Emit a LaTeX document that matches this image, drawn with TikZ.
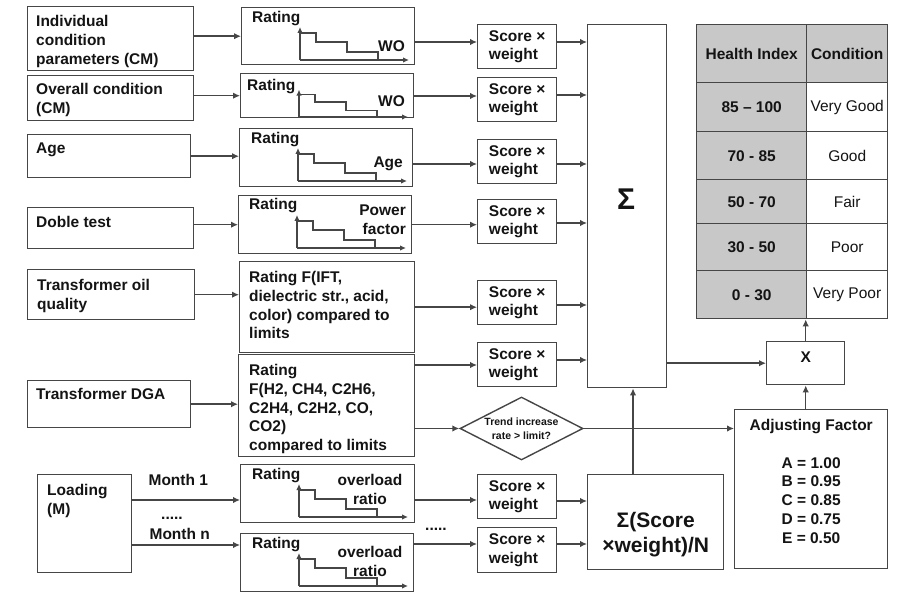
\documentclass[tikz,border=0pt]{standalone}
\usepackage{fontspec}
\setmainfont{Liberation Sans}
\usetikzlibrary{arrows.meta,shapes.geometric}
\definecolor{bord}{RGB}{70,70,70}
\definecolor{txt}{RGB}{20,20,20}
\definecolor{tabgray}{RGB}{200,200,200}
\newcommand\fnt{\fontsize{15.5}{18.8}\selectfont}
\newcommand\ratechart[2]{%
  \begin{scope}[shift={(#1.north west)},yscale=#2]
    \draw[chart,-{Latex[length=6pt,width=5.5pt]}] (59,53) -- (59,20);
    \draw[chart,-{Latex[length=6pt,width=5.5pt]}] (59,53) -- (168,53);
    \draw[chart] (59,26) -- (75,26) -- (75,35) -- (106,35) -- (106,45) -- (137,45) -- (137,53);
  \end{scope}}
\begin{document}
\begin{tikzpicture}[x=1pt,y=-1pt,
  box/.style={draw=bord,line width=1.4pt,rectangle,inner sep=0pt,anchor=north west},
  lbl/.style={anchor=north west,inner sep=0pt,align=left,text=txt,font=\fnt\bfseries},
  arr/.style={draw=bord,line width=1.4pt,-{Latex[length=7pt,width=6.5pt]}},
  chart/.style={draw=bord,line width=1.3pt},
  every node/.style={text=txt}]
\path[fill=white,use as bounding box] (0,0) rectangle (897,593);

% ---------- left column ----------
\node[box,minimum width=166pt,minimum height=64pt] (l1) at (27,6) {};
\node[box,minimum width=166pt,minimum height=45pt] (l2) at (27,75) {};
\node[box,minimum width=163pt,minimum height=43pt] (l3) at (27,134) {};
\node[box,minimum width=166pt,minimum height=41pt] (l4) at (27,207) {};
\node[box,minimum width=167pt,minimum height=50pt] (l5) at (27,269) {};
\node[box,minimum width=163pt,minimum height=47pt] (l6) at (27,380) {};
\node[box,minimum width=94pt,minimum height=98pt] (l7) at (37,474) {};
\node[lbl] (t1) at ([shift={(9,9)}]l1.north west) {Individual\\condition\\parameters (CM)};
\node[lbl] (t2) at ([shift={(9,8)}]l2.north west) {Overall condition\\(CM)};
\node[lbl] (t3) at ([shift={(9,9)}]l3.north west) {Age};
\node[lbl] (t4) at ([shift={(9,9)}]l4.north west) {Doble test};
\node[lbl] (t5) at ([shift={(10,10)}]l5.north west) {Transformer oil\\quality};
\node[lbl] (t6) at ([shift={(9,8)}]l6.north west) {Transformer DGA};
\node[lbl] (t7) at ([shift={(10,10)}]l7.north west) {Loading\\(M)};
\node[lbl] (m1) at ([shift={(16,0)}]l7.north east) {Month 1};
\node[lbl] (m2) at ([shift={(17,54)}]l7.north east) {Month n};
\node[anchor=base west,inner sep=0pt,font=\fnt\bfseries] (d1) at (161,519) {.....};
\node[anchor=base west,inner sep=0pt,font=\fnt\bfseries] (d2) at (425,530) {.....};

% ---------- rating column ----------
\node[box,minimum width=173pt,minimum height=57pt] (r1) at (241,7) {};
\node[box,minimum width=173pt,minimum height=44pt] (r2) at (240,73) {};
\node[box,minimum width=173pt,minimum height=58pt] (r3) at (239,128) {};
\node[box,minimum width=173pt,minimum height=58pt] (r4) at (238,195) {};
\node[box,minimum width=175pt,minimum height=91pt] (r5) at (239,261) {};
\node[box,minimum width=176pt,minimum height=102pt] (r6) at (238,354) {};
\node[box,minimum width=174pt,minimum height=58pt] (r7) at (240,464) {};
\node[box,minimum width=173pt,minimum height=58pt] (r8) at (240,533) {};
\ratechart{r1}{1}
\ratechart{r2}{0.83}
\ratechart{r3}{1}
\ratechart{r4}{1}
\ratechart{r7}{1}
\ratechart{r8}{1}
\node[lbl] (g1) at ([shift={(11,4)}]r1.north west) {Rating};
\node[lbl] (g2) at ([shift={(7,6)}]r2.north west) {Rating};
\node[lbl] (g3) at ([shift={(12,4)}]r3.north west) {Rating};
\node[lbl] (g4) at ([shift={(11,3)}]r4.north west) {Rating};
\node[lbl] (g7) at ([shift={(12,4)}]r7.north west) {Rating};
\node[lbl] (g8) at ([shift={(12,4)}]r8.north west) {Rating};
\node[lbl,anchor=north east] (w1) at ([shift={(164,33)}]r1.north west) {WO};
\node[lbl,anchor=north east] (w2) at ([shift={(165,22)}]r2.north west) {WO};
\node[lbl,anchor=north east] (w3) at ([shift={(164,29)}]r3.north west) {Age};
\node[lbl,anchor=north east,align=right] (w4) at ([shift={(168,10)}]r4.north west) {Power\\factor};
\node[lbl,anchor=north,align=center] (w7) at ([shift={(130,10)}]r7.north west) {overload\\ratio};
\node[lbl,anchor=north,align=center] (w8) at ([shift={(130,13)}]r8.north west) {overload\\ratio};
\node[lbl] (g5) at ([shift={(10,10)}]r5.north west) {Rating F(IFT,\\dielectric str., acid,\\color) compared to\\limits};
\node[lbl] (g6) at ([shift={(11,10)}]r6.north west) {Rating\\F(H2, CH4, C2H6,\\C2H4, C2H2, CO,\\CO2)\\compared to limits};

% ---------- score column ----------
\tikzset{score/.style={box,minimum width=79pt,minimum height=44pt,align=left,font=\fnt\bfseries}}
\node[score] (s1) at (477,24) {Score ×\\weight};
\node[score] (s2) at (477,77) {Score ×\\weight};
\node[score] (s3) at (477,139) {Score ×\\weight};
\node[score] (s4) at (477,199) {Score ×\\weight};
\node[score] (s5) at (477,280) {Score ×\\weight};
\node[score] (s6) at (477,342) {Score ×\\weight};
\node[score] (s7) at (477,474) {Score ×\\weight};
\node[score,minimum height=45pt] (s8) at (477,527) {Score ×\\weight};

% ---------- sums ----------
\node[box,minimum width=79pt,minimum height=363pt] (sig) at (587,24) {};
\node[inner sep=0pt,font=\fontsize{30}{34}\selectfont\bfseries] (sigt) at (626,199) {Σ};
\node[box,minimum width=136pt,minimum height=95pt] (sn) at (587,474) {};
\node[anchor=north,inner sep=0pt,align=center,font=\fontsize{21}{25}\selectfont\bfseries] (snt) at ([shift={(0,38)}]sn.north) {Σ(Score\\×weight)/N};

% ---------- diamond, adjusting, X ----------
\node[diamond,draw=bord,line width=1.4pt,minimum width=123pt,minimum height=63pt,inner sep=0pt] (dia) at (521.5,428.5) {};
\node[inner sep=0pt,align=center,font=\fontsize{10.5}{13.5}\selectfont\bfseries] (diat) at (dia.center) {Trend increase\\rate > limit?};
\node[box,minimum width=153pt,minimum height=159pt] (adj) at (734,409) {};
\node[anchor=north,inner sep=0pt,align=center,font=\fnt\bfseries] (adjt) at ([shift={(0,10)}]adj.north) {Adjusting Factor\\[18.8pt]A = 1.00\\B = 0.95\\C = 0.85\\D = 0.75\\E = 0.50};
\node[box,minimum width=78pt,minimum height=43pt] (xb) at (766,341) {};
\node[inner sep=0pt,font=\fnt\bfseries] (xt) at ([yshift=6pt]xb.center) {X};

% ---------- table ----------
\tikzset{cellL/.style={box,fill=tabgray,minimum width=110pt,font=\fnt\bfseries},
         cellR/.style={box,minimum width=81pt,font=\fnt}}
\node[cellL,minimum height=58pt] (h1) at (696,24) {Health Index};
\node[cellR,fill=tabgray,minimum height=58pt,font=\fnt\bfseries] (h2) at (806,24) {Condition};
\node[cellL,minimum height=49pt] (a1) at (696,82) {85 – 100};
\node[cellR,minimum height=49pt] (b1) at (806,82) {Very Good};
\node[cellL,minimum height=48pt] (a2) at (696,131) {70 - 85};
\node[cellR,minimum height=48pt] (b2) at (806,131) {Good};
\node[cellL,minimum height=44pt] (a3) at (696,179) {50 - 70};
\node[cellR,minimum height=44pt] (b3) at (806,179) {Fair};
\node[cellL,minimum height=47pt] (a4) at (696,223) {30 - 50};
\node[cellR,minimum height=47pt] (b4) at (806,223) {Poor};
\node[cellL,minimum height=48pt] (a5) at (696,270) {0 - 30};
\node[cellR,minimum height=48pt] (b5) at (806,270) {Very Poor};

% ---------- connectors ----------
\draw[arr] (l1.east |- r1.west) -- (r1.west);
\draw[arr] (l2.east |- r2.west) -- (r2.west);
\draw[arr] (l3.east) -- (l3.east -| r3.west);
\draw[arr] (l4.east |- r4.west) -- (r4.west);
\draw[arr] (l5.east) -- (l5.east -| r5.west);
\draw[arr] (l6.east) -- (l6.east -| r6.west);
\draw[arr] (l7.east |- 0,500) -- (r7.west |- 0,500);
\draw[arr] (l7.east |- 0,545) -- (r8.west |- 0,545);

\draw[arr] (r1.east |- 0,42) -- (s1.west |- 0,42);
\draw[arr] (r2.east |- 0,96) -- (s2.west |- 0,96);
\draw[arr] (r3.east |- 0,164) -- (s3.west |- 0,164);
\draw[arr] (r4.east) -- (r4.east -| s4.west);
\draw[arr] (r5.east) -- (r5.east -| s5.west);
\draw[arr] (r6.east |- 0,365) -- (s6.west |- 0,365);
\draw[arr] (r7.east |- 0,500) -- (s7.west |- 0,500);
\draw[arr] (r8.east |- 0,544) -- (s8.west |- 0,544);

\draw[arr] (s1.east |- 0,42) -- (sig.west |- 0,42);
\draw[arr] (s2.east |- 0,95) -- (sig.west |- 0,95);
\draw[arr] (s3.east |- 0,164) -- (sig.west |- 0,164);
\draw[arr] (s4.east |- 0,223) -- (sig.west |- 0,223);
\draw[arr] (s5.east |- 0,305) -- (sig.west |- 0,305);
\draw[arr] (s6.east |- 0,360) -- (sig.west |- 0,360);
\draw[arr] (s7.east |- 0,501) -- (sn.west |- 0,501);
\draw[arr] (s8.east |- 0,544) -- (sn.west |- 0,544);

\draw[arr] (r6.east |- dia.west) -- (dia.west);
\draw[arr] (dia.east) -- (dia.east -| adj.west);
\draw[arr] (633,0 |- sn.north) -- (633,0 |- sig.south);
\draw[arr] (sig.east |- xb.west) -- (xb.west);
\draw[arr] (xb.south |- adj.north) -- (xb.south);
\draw[arr] (xb.north) -- (xb.north |- a5.south);
\end{tikzpicture}
\end{document}
